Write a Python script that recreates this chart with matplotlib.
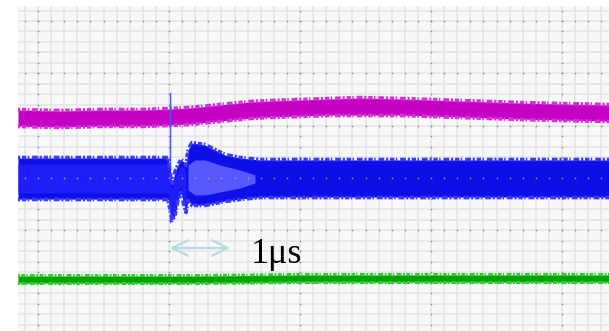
import matplotlib
matplotlib.use("Agg")
import matplotlib.pyplot as plt
import numpy as np

# trace envelopes (x = screen column, y = screen row)
mag_x = [18, 60, 100, 140, 170, 190, 210, 230, 250, 270, 300, 330, 360, 400, 430, 460, 490, 520, 560, 609]
mag_top = [110, 111, 110, 110, 109, 108, 106, 104, 102, 101, 100, 99, 98, 99, 100, 101, 102, 103, 104, 105]
mag_bot = [126, 127, 126, 126, 125, 124, 122, 120, 118, 117, 116, 115, 115, 115, 116, 117, 118, 119, 120, 121]

blue_x = [18, 168, 172, 175, 178, 181, 184, 186, 188, 192, 205, 215, 225, 240, 260, 609]
blue_top = [158, 158, 185, 172, 165, 160, 162, 166, 150, 143, 145, 150, 155, 158, 160, 160]
blue_bot = [199, 199, 220, 215, 200, 192, 205, 212, 200, 205, 205, 203, 201, 199, 197, 197]

# lighter ringing region right after the edge
ring_x = [188, 195, 205, 220, 240, 255]
ring_top = [165, 160, 160, 165, 170, 175]
ring_bot = [190, 195, 195, 192, 188, 183]

spike_x = 170
spike_y = [93, 222]

grn_x = [18, 100, 200, 300, 400, 500, 609]
grn_top = [276, 276, 276, 275, 275, 275, 275]
grn_bot = [283, 283, 283, 282, 282, 282, 282]

arrow_x = [170, 230]
arrow_y = 248
label = "1\u03bcs"

fig = plt.figure(figsize=(6.09, 3.31), dpi=100)
ax = fig.add_axes([18 / 609, 0, 591 / 609, 325 / 331])
ax.set_xlim(18, 609)
ax.set_ylim(331, 6)
ax.set_facecolor("#f6f9f7")
for s in ax.spines.values():
    s.set_visible(False)
ax.set_xticks([])
ax.set_yticks([])

# screen grid
vx = 38 + 13.1 * np.arange(-2, 45)
hy = 21 + 10.47 * np.arange(-2, 32)
for x in vx:
    ax.axvline(x, color="#e5e5e5", lw=1.2, zorder=0)
for y in hy:
    ax.axhline(y, color="#e5e5e5", lw=1.2, zorder=0)
major_x = [38, 169, 300, 431, 562]
major_y = [21, 73.4, 125.8, 178, 230.3, 282.7]
for x in major_x:
    ax.scatter(np.full(len(hy), x), hy, s=1.5, color="#8a8a8a", zorder=1, lw=0)
for y in major_y:
    ax.scatter(vx, np.full(len(vx), y), s=1.5, color="#8a8a8a", zorder=1, lw=0)

# ragged edges to give the traces a noisy look
fuzz = dict(lw=2.6, dashes=(0.6, 0.5, 1.2, 0.4, 0.4, 0.8, 1.6, 0.5), zorder=2)

# magenta trace
mt, mb = np.array(mag_top), np.array(mag_bot)
ax.fill_between(mag_x, mt, mb, color="#c400c4", lw=0, zorder=2)
ax.plot(mag_x, mt - 0.5, color="#d830d8", **fuzz)
ax.plot(mag_x, mb + 0.5, color="#d830d8", **fuzz)

# blue trace
ax.plot([spike_x, spike_x], spike_y, color="#5050ff", lw=1.0, zorder=3)
bt, bb = np.array(blue_top), np.array(blue_bot)
ax.fill_between(blue_x, bt, bb, color="#0e0ee8", lw=0, zorder=3)
ax.fill_between(blue_x, bt + 6, bb - 6, where=np.array(blue_x) < 188,
                color="#1e1efa", lw=0, zorder=3)
ax.fill_between(ring_x, ring_top, ring_bot, color="#5858ff", lw=0, zorder=3)
ax.plot(blue_x, bt - 0.5, color="#3a3aff", **dict(fuzz, zorder=3))
ax.plot(blue_x, bb + 0.5, color="#3a3aff", **dict(fuzz, zorder=3))
for x in vx:
    ax.scatter([x], [178], s=1.5, color="#b0a060", zorder=4, lw=0)

# green trace
gt, gb = np.array(grn_top), np.array(grn_bot)
ax.fill_between(grn_x, gt, gb, color="#00a400", lw=0, zorder=2)
ax.plot(grn_x, gt - 0.5, color="#30cc30", **dict(fuzz, lw=2.2))
ax.plot(grn_x, gb + 0.5, color="#30cc30", **dict(fuzz, lw=2.2))

# time scale marker
ax.annotate("", xy=(arrow_x[0], arrow_y), xytext=(arrow_x[1], arrow_y),
            arrowprops=dict(arrowstyle="<->, head_length=1.1, head_width=0.55",
                            color="#b5d9e2", lw=1.6, mutation_scale=10,
                            shrinkA=0, shrinkB=0), zorder=5)
ax.text(251, 263, label, fontsize=26, family=["Liberation Serif", "DejaVu Serif"],
        color="black", ha="left", va="baseline", zorder=5)

fig.savefig("out.png", dpi=100)
